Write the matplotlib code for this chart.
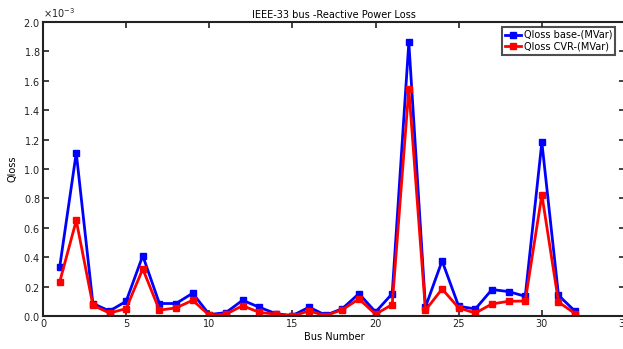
import matplotlib
matplotlib.use("Agg")
import matplotlib.pyplot as plt
from matplotlib.ticker import ScalarFormatter

bus = list(range(1, 33))
qloss_base = [0.33, 1.11, 0.085, 0.034, 0.10, 0.41, 0.085, 0.085, 0.155, 0.010,
              0.023, 0.107, 0.060, 0.016, 0.003, 0.060, 0.005, 0.050, 0.152, 0.027,
              0.152, 1.861, 0.061, 0.375, 0.066, 0.048, 0.180, 0.166, 0.134, 1.182,
              0.141, 0.032]
qloss_cvr = [0.23, 0.65, 0.073, 0.020, 0.050, 0.32, 0.040, 0.055, 0.107, 0.005,
             0.012, 0.070, 0.025, 0.012, 0.000, 0.034, 0.002, 0.043, 0.116, 0.012,
             0.078, 1.545, 0.039, 0.184, 0.055, 0.020, 0.082, 0.100, 0.102, 0.825,
             0.095, 0.016]
qloss_base = [v * 1e-3 for v in qloss_base]
qloss_cvr = [v * 1e-3 for v in qloss_cvr]

plt.rcParams['font.family'] = ['DejaVu Sans']
plt.rcParams['font.size'] = 7

fig = plt.figure(figsize=(6.23, 3.49), dpi=100)
ax = fig.add_axes([43 / 623, 33 / 349, 582 / 623, 294 / 349])

ax.plot(bus, qloss_base, '-s', color='blue', lw=2, ms=4, label='Qloss base-(MVar)')
ax.plot(bus, qloss_cvr, '-s', color='red', lw=2, ms=4, label='Qloss CVR-(MVar)')

ax.set_xlim(0, 35)
ax.set_ylim(0, 2e-3)
ax.set_xticks(range(0, 36, 5))
ax.set_yticks([i * 0.2e-3 for i in range(11)])
fmt = ScalarFormatter(useMathText=True)
fmt.set_powerlimits((-3, -3))
ax.yaxis.set_major_formatter(fmt)

ax.tick_params(direction='in', top=True, right=True, length=4, width=1.2,
               colors='#222222', labelsize=7, pad=2)
for s in ax.spines.values():
    s.set_linewidth(1.5)
    s.set_color('#222222')

ax.set_title('IEEE-33 bus -Reactive Power Loss', fontsize=7, pad=3)
ax.set_xlabel('Bus Number', fontsize=7, labelpad=2)
ax.set_ylabel('Qloss', fontsize=7, labelpad=4)

leg = ax.legend(loc='upper right', bbox_to_anchor=(0.983, 0.983), borderaxespad=0,
                fancybox=False, fontsize=7, handlelength=1.6, borderpad=0.3,
                labelspacing=0.2, handletextpad=0.3)
leg.get_frame().set_edgecolor('#222222')
leg.get_frame().set_linewidth(1.5)

fig.savefig('out.png', dpi=100)
